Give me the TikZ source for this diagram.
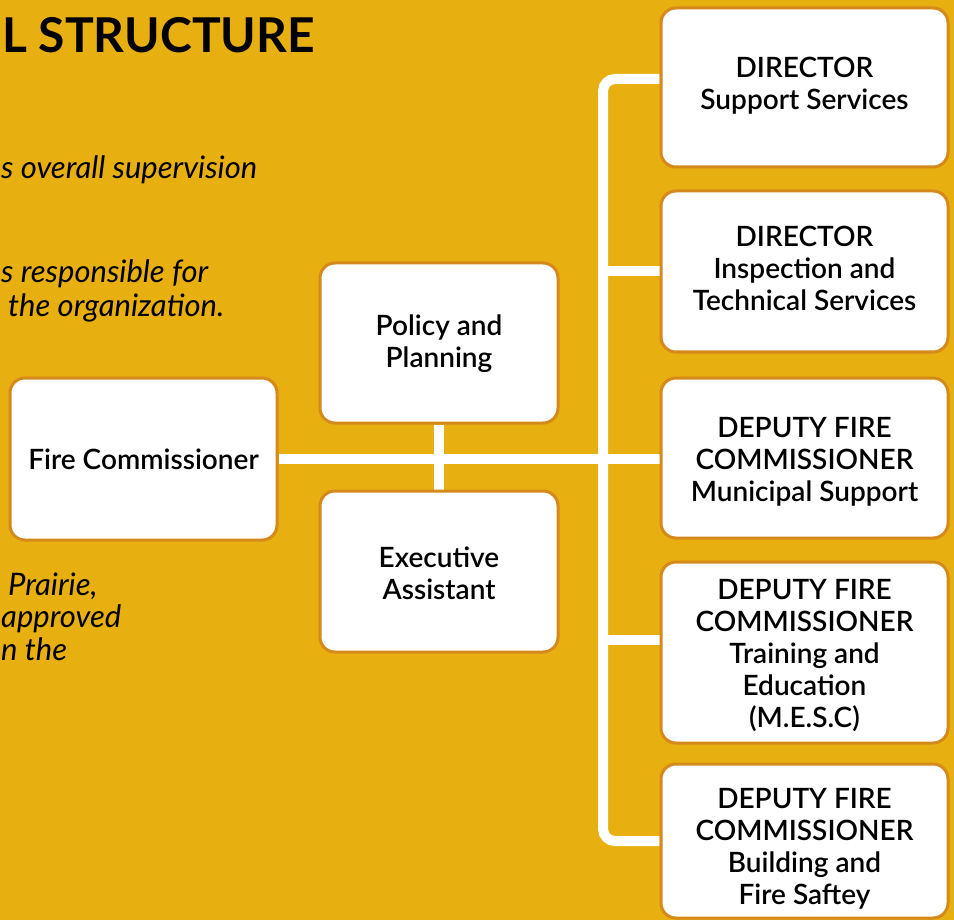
\documentclass[tikz,border=0pt]{standalone}
\usepackage{fontspec}
\setmainfont{Lato}
\newfontfamily\semifont{Lato Semibold}
\definecolor{bg}{RGB}{232,175,16}
\definecolor{boxline}{RGB}{214,137,27}
\newcommand\boxfont{\semifont\fontsize{28}{32}\selectfont}
\newcommand\itfont{\fontsize{31}{34}\selectfont\itshape}
\newcommand\titlefont{\fontsize{48}{52}\selectfont\bfseries}
\pgfdeclarelayer{bgfill}
\pgfdeclarelayer{lines}
\pgfsetlayers{bgfill,lines,main}
\begin{document}
\begin{tikzpicture}[x=1pt,y=-1pt,
  box/.style={draw=boxline, line width=3pt, fill=white, rounded corners=15pt, inner sep=0pt},
  rbox/.style={box, minimum width=287pt},
  lbox/.style={box, minimum width=238pt, minimum height=160pt},
  txt/.style={align=center, font=\boxfont, inner sep=0pt},
  conn/.style={draw=white, line width=10pt},
  para/.style={anchor=base west, inner sep=0pt, font=\itfont}]
\useasboundingbox (0,0) rectangle (954,920);
\begin{pgfonlayer}{bgfill}
\fill[bg] (0,0) rectangle (954,920);
\end{pgfonlayer}
% title and text fragments
\node[anchor=base west, inner sep=0pt, font=\titlefont] (title) at (2,53) {L STRUCTURE};
\node[para] (p1) at (1,179) {s overall supervision};
\node[para] (p2) at (1,283) {s responsible for};
\node[para] (p3) at (8,317) {the organization.};
\node[para] (p4) at (8,595) {Prairie,};
\node[para] (p5) at (1,627) {approved};
\node[para] (p6) at (1,660) {n the};
% boxes
\node[rbox, minimum height=159pt] (b1) at (804.5,87.5) {};
\node[rbox, minimum height=161pt] (b2) at (804.5,271.5) {};
\node[rbox, minimum height=160pt] (b3) at (804.5,458) {};
\node[rbox, minimum height=181pt] (b4) at (804.5,652.5) {};
\node[rbox, minimum height=154pt] (b5) at (804.5,841) {};
\node[box, minimum width=267pt, minimum height=162pt] (fc) at (143.5,459) {};
\node[lbox] (pp) at (439,343) {};
\node[lbox, minimum height=161pt] (ea) at (439,571.5) {};
% box texts
\node[txt] (b1t) at (804.5,86) {DIRECTOR\\Support Services};
\node[txt] (b2t) at (804.5,268) {DIRECTOR\\Inspection and\\Technical Services};
\node[txt] (b3t) at (804.5,462) {DEPUTY FIRE\\COMMISSIONER\\Municipal Support};
\node[txt] (b4t) at (804.5,656) {DEPUTY FIRE\\COMMISSIONER\\Training and\\Education\\(M.E.S.C)};
\node[txt] (b5t) at (804.5,849) {DEPUTY FIRE\\COMMISSIONER\\Building and\\Fire Saftey};
\node[txt] (fct) at (143.5,459) {Fire Commissioner};
\node[txt] (ppt) at (439,344) {Policy and\\Planning};
\node[txt] (eat) at (439,573) {Executive\\Assistant};
% connectors under the boxes
\coordinate (trunk) at (603,0);
\begin{pgfonlayer}{lines}
\draw[conn] (fc.east) -- (b3.west |- fc.east);
\draw[conn] (pp.south) -- (ea.north);
\draw[conn, rounded corners=12pt] (b1.west |- 0,79) -| (trunk |- b5.west) -- (b5.west);
\draw[conn] (trunk |- b2.west) -- (b2.west);
\draw[conn] (trunk |- 0,640) -- (b4.west |- 0,640);
\end{pgfonlayer}
\end{tikzpicture}
\end{document}
